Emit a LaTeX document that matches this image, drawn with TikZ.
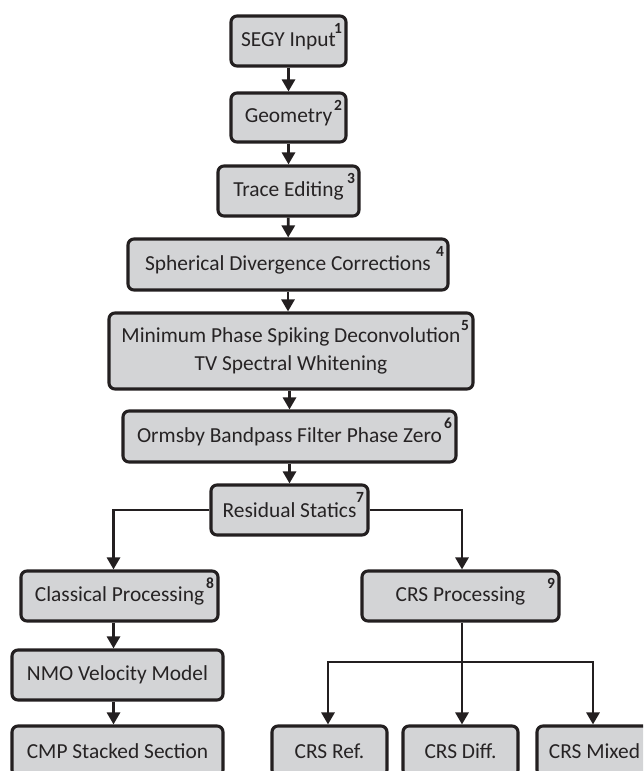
\documentclass[tikz,border=0pt]{standalone}
\usepackage{fontspec}
\setmainfont{Carlito}
\usetikzlibrary{arrows.meta}
\definecolor{boxfill}{RGB}{211,212,214}
\definecolor{ink}{RGB}{35,31,32}
\definecolor{txt}{RGB}{38,35,36}
\tikzset{
  box/.style={draw=ink, fill=boxfill, line width=3.1pt, rounded corners=6pt,
    inner sep=0pt, align=center, text=txt, font=\fontsize{21.4}{28}\selectfont},
  arr/.style={draw=ink, line width=2.8pt, -{Triangle[length=12pt,width=13pt]}},
  num/.style={text=txt, font=\fontsize{15.5}{15}\selectfont\bfseries, inner sep=0pt}
}
\newcommand{\bx}[6]{% name, cx, cy, w, h, text
  \node[box, minimum width=#4pt, minimum height=#5pt] (#1) at (#2,#3) {#6};}
\newcommand{\nm}[2]{\node[num] at ([xshift=-9.5pt,yshift=-14pt]#1.north east) {#2};}
\begin{document}
\begin{tikzpicture}[x=1pt,y=-1pt]
\useasboundingbox (0,0) rectangle (643,771);
\clip (0,0) rectangle (643,771);
\bx{b1}{288.5}{41}{115}{50}{SEGY Input}
\bx{b2}{288.5}{117.5}{115}{49}{Geometry}
\bx{b3}{288.5}{191}{141}{50}{Trace Editing}
\bx{b4}{288}{264.5}{320}{51}{Spherical Divergence Corrections}
\bx{b5}{291}{351}{364}{76}{Minimum Phase Spiking Deconvolution\\TV Spectral Whitening}
\bx{b6}{289.5}{436.5}{333}{51}{Ormsby Bandpass Filter Phase Zero}
\bx{b7}{289.5}{510}{157}{50}{Residual Statics}
\bx{b8}{119.5}{596}{197}{50}{Classical Processing}
\bx{b9}{460.5}{596}{197}{50}{CRS Processing}
\bx{nmo}{117.5}{675}{211}{50}{NMO Velocity Model}
\bx{cmp}{117.5}{751}{211}{50}{CMP Stacked Section}
\bx{ref}{329.5}{751}{115}{50}{CRS Ref.}
\bx{diff}{460.5}{751}{115}{50}{CRS Diff.}
\bx{mix}{594.5}{751}{115}{50}{CRS Mixed}
\nm{b1}{1}\nm{b2}{2}\nm{b3}{3}\nm{b4}{4}\nm{b5}{5}\nm{b6}{6}\nm{b7}{7}\nm{b8}{8}\nm{b9}{9}
\draw[arr] (b1) -- (b2);
\draw[arr] (b2) -- (b3);
\draw[arr] (b3) -- (b4);
\draw[arr] (b4.south) -- (b4.south |- b5.north);
\draw[arr] (b5.south -| b6.north) -- (b6.north);
\draw[arr] (b6) -- (b7);
\draw[arr] (b7.west) -| ([xshift=-6pt]b8.north);
\draw[arr] (b7.east) -| ([xshift=1.5pt]b9.north);
\draw[arr] ([xshift=-6pt]b8.south) -- ([xshift=-6pt]b8.south |- nmo.north);
\draw[arr] ([xshift=-6pt]b8.south |- nmo.south) -- ([xshift=-6pt]b8.south |- cmp.north);
\coordinate (br) at ([xshift=1.5pt]b9.south |- 0,662);
\draw[arr] ([xshift=1.5pt]b9.south) -- ([xshift=1.5pt]b9.south |- diff.north);
\draw[arr] (br) -| ([xshift=-1.5pt]ref.north);
\draw[arr] (br) -| ([xshift=-1.5pt]mix.north);
\end{tikzpicture}
\end{document}
